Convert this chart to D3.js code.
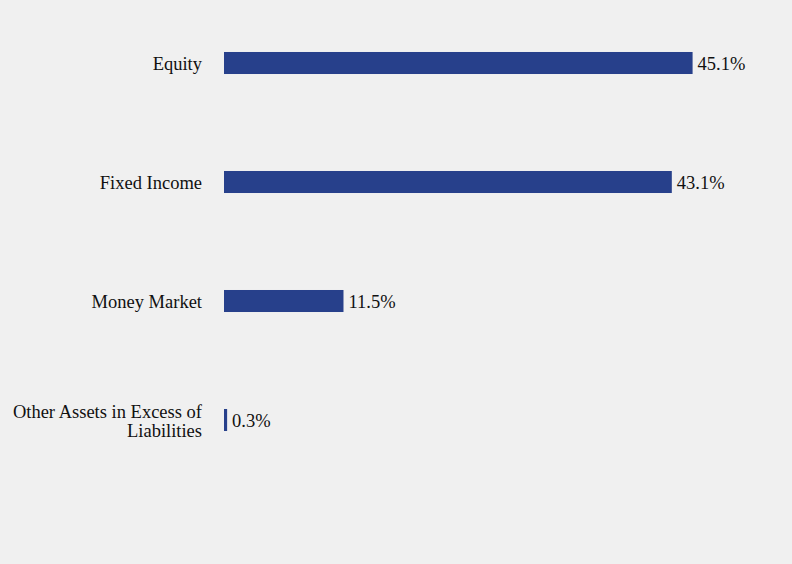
<!DOCTYPE html>
<html>
<head>
    <meta charset="UTF-8">
    <style>
        html, body { margin: 0; padding: 0; background: #f0f0f0; }
        svg { display: block; }
        text { font-family: "Liberation Serif", "DejaVu Serif", serif; font-size: 18.5px; fill: #111; }
    </style>
</head>
<body>
    <svg></svg>
    <script src="https://d3js.org/d3.v7.min.js"></script>
    <script>
        const categories = ["Equity", "Fixed Income", "Money Market", "Other Assets in Excess of Liabilities"];
        const labelLines = [["Equity"], ["Fixed Income"], ["Money Market"], ["Other Assets in Excess of", "Liabilities"]];
        const values = [45.1, 43.1, 11.5, 0.3];

        let width = 792, height = 564;

        let svg = d3.select("svg")
            .attr("width", width)
            .attr("height", height);

        svg.append("rect")
            .attr("width", width)
            .attr("height", height)
            .attr("fill", "#f0f0f0");

        let x = d3.scaleLinear()
            .domain([0, 50])
            .range([224, 743.5]);

        let y = d3.scaleBand()
            .domain(categories)
            .range([3.5, 479.5])
            .paddingInner(0.815)
            .paddingOuter(0.4075);

        // bars
        svg.append("g")
            .selectAll("rect")
            .data(values)
            .enter()
            .append("rect")
            .attr("x", x(0))
            .attr("y", (d, i) => y(categories[i]))
            .attr("width", d => x(d) - x(0))
            .attr("height", y.bandwidth())
            .attr("fill", "#27408b");

        // value labels
        svg.append("g")
            .selectAll("text")
            .data(values)
            .enter()
            .append("text")
            .attr("x", d => x(d) + 5)
            .attr("y", (d, i) => y(categories[i]) + y.bandwidth() / 2 + 1)
            .attr("dominant-baseline", "central")
            .text(d => d.toFixed(1) + "%");

        // category labels
        let lineH = 19;
        let labels = svg.append("g")
            .selectAll("text")
            .data(categories)
            .enter()
            .append("text")
            .attr("text-anchor", "end")
            .attr("dominant-baseline", "central");

        labels.each(function (d, i) {
            let lines = labelLines[i];
            let cy = y(d) + y.bandwidth() / 2 + 1;
            d3.select(this).selectAll("tspan")
                .data(lines)
                .enter()
                .append("tspan")
                .attr("x", 202)
                .attr("y", (l, j) => cy + (j - (lines.length - 1) / 2) * lineH)
                .text(l => l);
        });
    </script>
</body>
</html>
